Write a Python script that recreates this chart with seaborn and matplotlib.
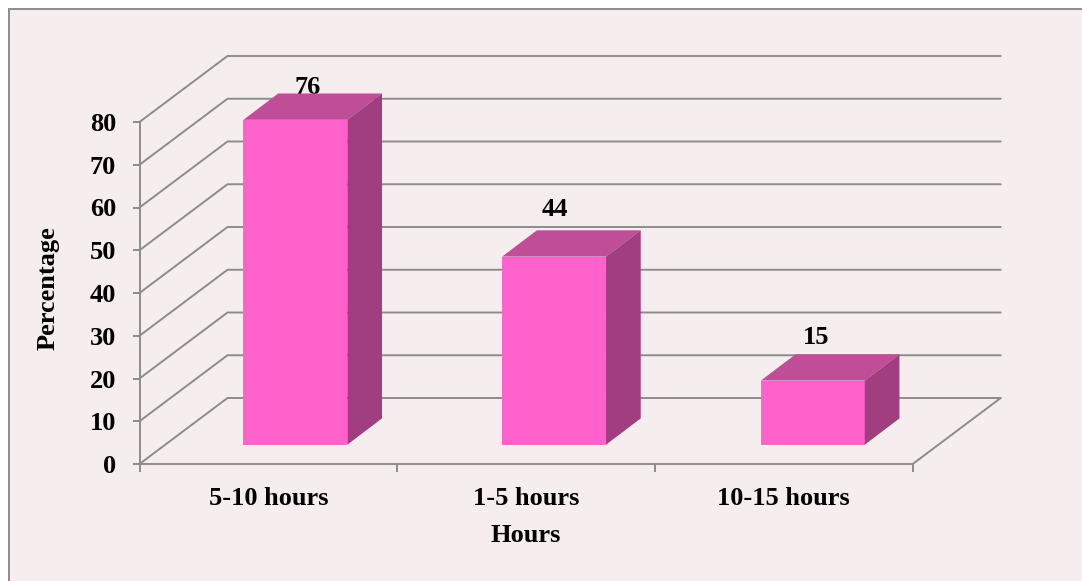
import numpy as np
import matplotlib
matplotlib.use("Agg")
import matplotlib.pyplot as plt
from matplotlib.patches import Polygon, Rectangle
import seaborn as sns

# Chart values
hours = ["5-10 hours", "1-5 hours", "10-15 hours"]
percentages = [76, 44, 15]
y_ticks = [0, 10, 20, 30, 40, 50, 60, 70, 80]

# Colours
FRONT = "#FF63CB"
TOP = "#C04D98"
SIDE = "#A03E80"
LINE = "#8C8C8C"
PANEL = "#F6EEEE"
LINE_W = 1.4

W, H = 1082, 581
sns.set_theme(style="white")
plt.rcParams["font.family"] = ["Liberation Serif", "DejaVu Serif"]
plt.rcParams["font.weight"] = "bold"

fig = plt.figure(figsize=(W / 100, H / 100), dpi=100, facecolor="white")

# Panel behind the chart, running off the right and bottom edges
fig.add_artist(Rectangle((8.5 / W, -0.05), 1.1, 1.05 - 9 / H, transform=fig.transFigure,
                         facecolor=PANEL, edgecolor=LINE, linewidth=LINE_W, zorder=-1))

# Axes box is the front plane of the pseudo-3D chart
left, right, top, bottom = 139.5, 912.7, 122.0, 464.0
ax = fig.add_axes([left / W, 1 - bottom / H, (right - left) / W, (bottom - top) / H])
ax.patch.set_alpha(0)

sns.barplot(x=hours, y=percentages, color=FRONT, saturation=1, width=0.403, ax=ax, zorder=3)
ax.set_xlim(-0.5, 2.5)
ax.set_ylim(0, 80)

px_x = (right - left) / 3       # pixels per category
px_y = (bottom - top) / 80      # pixels per percentage point


def depth(dx_px, dy_px):
    return dx_px / px_x, dy_px / px_y


# Back wall and floor lines
wall_dx, wall_dy = depth(88, 66)
for v in y_ticks:
    ax.plot([-0.5, -0.5 + wall_dx, 2.5 + wall_dx], [v, v + wall_dy, v + wall_dy],
            color=LINE, lw=LINE_W, clip_on=False, zorder=1, solid_joinstyle="miter")
ax.plot([2.5, 2.5 + wall_dx], [0, wall_dy], color=LINE, lw=LINE_W, clip_on=False, zorder=1)

# Bars stand part-way back on the floor; add their top and side faces
set_dx, set_dy = depth(27, 19.3)
face_dx, face_dy = depth(34.7, 26.3)
bar_spread = 1.0                # extra spacing between successive bars, pixels
label_lift = [32, 47, 43]       # gap in pixels from the front top edge to the label centre
label_shift = [12, 1, 3]        # label offset to the right of the bar centre, pixels
for i, (bar, value) in enumerate(zip(ax.patches, percentages)):
    bar.set_x(bar.get_x() + set_dx + i * bar_spread / px_x)
    bar.set_y(set_dy)
    bar.set_clip_on(False)
    bar.set_edgecolor("none")
    x0, x1 = bar.get_x(), bar.get_x() + bar.get_width()
    y0, y1 = bar.get_y(), bar.get_y() + bar.get_height()
    ax.add_patch(Polygon([(x0, y1), (x1, y1), (x1 + face_dx, y1 + face_dy), (x0 + face_dx, y1 + face_dy)],
                         closed=True, facecolor=TOP, edgecolor="none", clip_on=False, zorder=3))
    ax.add_patch(Polygon([(x1, y0), (x1, y1), (x1 + face_dx, y1 + face_dy), (x1 + face_dx, y0 + face_dy)],
                         closed=True, facecolor=SIDE, edgecolor="none", clip_on=False, zorder=3))
    ax.text((x0 + x1) / 2 + label_shift[i] / px_x, y1 + label_lift[i] / px_y, str(value),
            ha="center", va="center", fontsize=19, fontweight="bold", color="black",
            zorder=2, clip_on=False)

# Axes, ticks and labels
sns.despine(ax=ax, top=True, right=True)
for side in ("left", "bottom"):
    ax.spines[side].set_color(LINE)
    ax.spines[side].set_linewidth(LINE_W)

ax.set_yticks(y_ticks)
ax.set_xticks([-0.5, 0.5, 1.5, 2.5])
ax.set_xticklabels([])
ax.set_xticks(range(len(hours)), labels=hours, minor=True)
ax.tick_params(axis="y", which="major", left=True, length=5.4, width=LINE_W, color=LINE,
               pad=11.5, labelsize=19, labelcolor="black")
ax.tick_params(axis="x", which="major", bottom=True, length=5.4, width=LINE_W, color=LINE)
ax.tick_params(axis="x", which="minor", bottom=False, length=0, pad=16.5, labelsize=19, labelcolor="black")
ax.set_xlabel("")
ax.set_ylabel("")

fig.text(526 / W, 1 - 535.5 / H, "Hours", ha="center", va="center", fontsize=19,
         fontweight="bold", color="black")
fig.text(48 / W, 1 - 288 / H, "Percentage", ha="center", va="center", rotation=90,
         fontsize=19, fontweight="bold", color="black")

fig.savefig("out.png", dpi=100, facecolor="white")
